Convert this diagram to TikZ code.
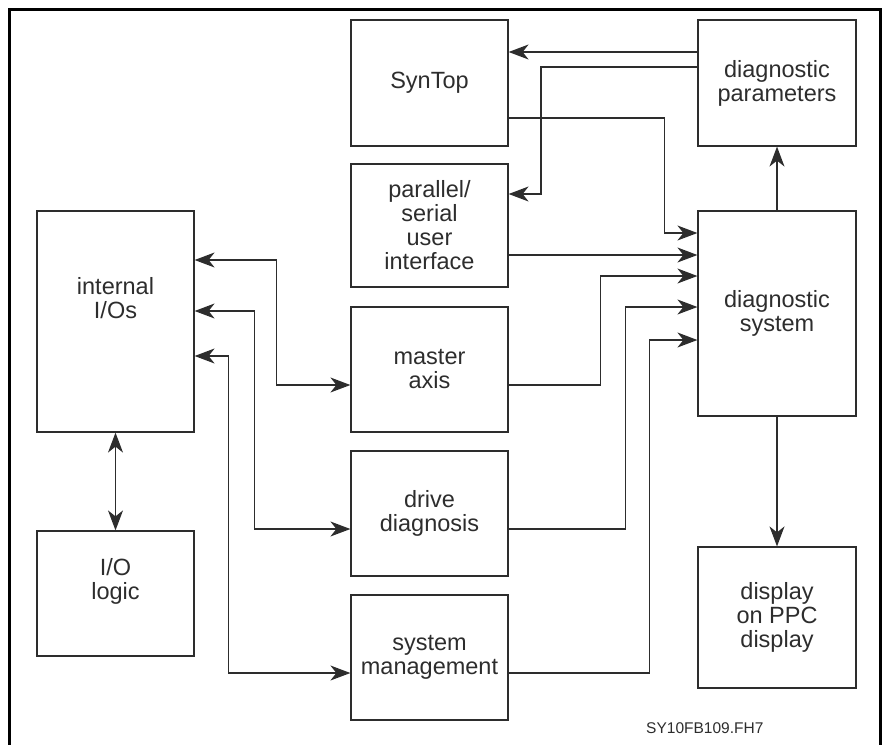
\documentclass[tikz,border=0pt]{standalone}
\usepackage{fontspec}
\setmainfont{Liberation Sans}
\usetikzlibrary{arrows.meta, positioning, calc}
\definecolor{linegray}{RGB}{45, 45, 45}

\begin{document}
\begin{tikzpicture}[
  x=1pt, y=-1pt,
  txt/.style={align=center, text=linegray, font=\fontsize{23.5}{24}\selectfont},
  box/.style={draw=linegray, line width=1.2pt, minimum width=157pt, minimum height=125pt, inner sep=0pt, txt},
  widebox/.style={box, minimum width=158pt},
  arrow/.style={-{Stealth[length=20pt, width=15pt, inset=6pt]}, draw=linegray, line width=1.2pt},
  dblarrow/.style={{Stealth[length=20pt, width=15pt, inset=6pt]}-{Stealth[length=20pt, width=15pt, inset=6pt]}, draw=linegray, line width=1.2pt},
  frame/.style={draw=black, line width=3pt}
]
  \useasboundingbox (0,0) rectangle (883,744);

  % Outer frame
  \draw[frame] (9,760) -- (9,9) -- (880,9) -- (880,760);

  % Left column: I/Os
  \node[box, minimum height=221pt, label={[txt, yshift=23.5pt]center:internal\\I/Os}] (inio) at (115.5,321.5) {};
  \node[box, label={[txt, yshift=12.5pt]center:I/O\\logic}] (iologic) at (115.5,593.5) {};

  % Middle column
  \node[box, minimum height=126pt] (syntop) at (429.5,83) {SynTop};
  \node[box, minimum height=123pt] (pui) at (429.5,225.5) {parallel/\\serial\\user\\interface};
  \node[box] (master) at (429.5,369.5) {master\\axis};
  \node[box] (drive) at (429.5,513.5) {drive\\diagnosis};
  \node[box] (sysman) at (429.5,657.5) {system\\management};

  % Right column: diagnostics
  \node[widebox, minimum height=126pt] (dparam) at (777,83) {diagnostic\\parameters};
  \node[widebox, minimum height=205pt] (dsys) at (777,313.5) {diagnostic\\system};
  \node[widebox, minimum height=141pt] (display) at (777,617.5) {display\\on PPC\\display};

  % Parameters back to SynTop and user interface
  \draw[arrow] ([yshift=31pt]dparam.west) -- ([yshift=31pt]syntop.east);
  \draw[arrow] ([yshift=16pt]dparam.west) -- ++(-156.5,0) |- ([yshift=31.5pt]pui.east);

  % Sources into the diagnostic system
  \draw[arrow] ([yshift=-35pt]syntop.east) -- ++(156,0) |- ([yshift=80.5pt]dsys.west);
  \draw[arrow] ([yshift=-29.5pt]pui.east) -- ([yshift=58.5pt]dsys.west);
  \draw[arrow] ([yshift=-15.5pt]master.east) -- ++(92,0) |- ([yshift=37.5pt]dsys.west);
  \draw[arrow] ([yshift=-15.5pt]drive.east) -- ++(117,0) |- ([yshift=6.5pt]dsys.west);
  \draw[arrow] ([yshift=-15.5pt]sysman.east) -- ++(140.5,0) |- ([yshift=-26.5pt]dsys.west);

  % Diagnostic system outputs
  \draw[arrow] (dsys.north) -- (dparam.south);
  \draw[arrow] (dsys.south) -- (display.north);

  % Internal I/Os links
  \draw[dblarrow] (inio.south) -- (iologic.north);
  \draw[dblarrow] ([yshift=61.5pt]inio.east) -- ++(81.5,0) |- ([yshift=-15.5pt]master.west);
  \draw[dblarrow] ([yshift=10.5pt]inio.east) -- ++(60,0) |- ([yshift=-15.5pt]drive.west);
  \draw[dblarrow] ([yshift=-34.5pt]inio.east) -- ++(33.5,0) |- ([yshift=-15.5pt]sysman.west);

  % Drawing number
  \node[anchor=west, inner sep=0pt, text=linegray, font=\fontsize{15.5}{16}\selectfont] (drawno) at (646,728) {SY10FB109.FH7};
\end{tikzpicture}
\end{document}
